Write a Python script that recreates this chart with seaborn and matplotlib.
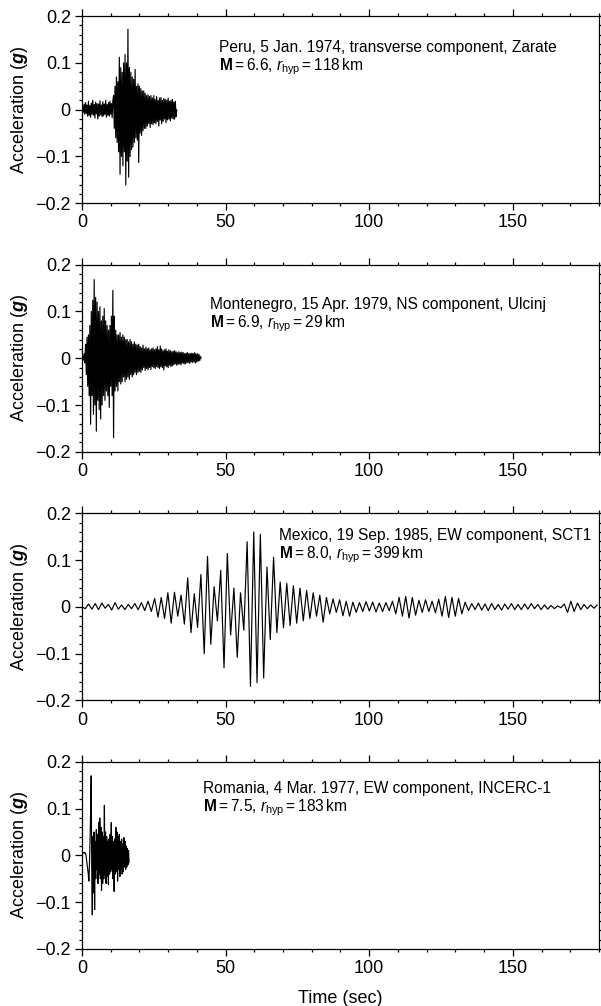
import numpy as np
import pandas as pd
import matplotlib
matplotlib.use('Agg')
import matplotlib.pyplot as plt
import seaborn as sns
from matplotlib.ticker import MultipleLocator, FuncFormatter

# accelerogram values (g), one value every dt seconds
peru_dt = 0.25
peru_acc = [
    0.0, 0.008, -0.006, 0.012, -0.01, 0.015, -0.008, 0.01, -0.014, 0.018,
    -0.012, 0.009, -0.016, 0.014, -0.01, 0.02, -0.012, 0.011, -0.018, 0.016,
    -0.009, 0.013, -0.02, 0.012, -0.014, 0.019, -0.011, 0.01, -0.015, 0.017,
    -0.013, 0.012, -0.01, 0.02, -0.016, 0.011, -0.012, 0.015, -0.014, 0.018,
    -0.01, 0.013, -0.017, 0.02,
    0.03, -0.04, 0.05, -0.06, 0.07, -0.07, 0.06, -0.09, 0.112, -0.138,
    0.09, -0.1, 0.08, -0.12, 0.1, -0.09, 0.118, -0.161, 0.1, -0.11,
    0.172, -0.144, 0.09, -0.1, 0.08, -0.085, 0.07, -0.08, 0.065, -0.07,
    0.086, -0.06, 0.05, -0.065, 0.055, -0.113, 0.05, -0.05, 0.045, -0.055,
    0.04, -0.045, 0.04, -0.04,
    0.035, -0.04, 0.03, -0.035, 0.032, -0.03, 0.028, -0.038, 0.03, -0.03,
    0.025, -0.032, 0.03, -0.028, 0.022, -0.03, 0.028, -0.025, 0.02, -0.035,
    0.025, -0.022, 0.026, -0.03, 0.02, -0.025, 0.024, -0.02, 0.022, -0.028,
    0.02, -0.022, 0.025, -0.02, 0.018, -0.024, 0.02, -0.018, 0.022, -0.02,
    0.016, -0.02, 0.018, -0.015, 0.0,
]

montenegro_dt = 0.25
montenegro_acc = [
    0.0, 0.005, -0.004, 0.01, -0.01,
    0.03, -0.035, 0.045, -0.06, 0.05, -0.08, 0.07, -0.141, 0.1, -0.08,
    0.124, -0.12, 0.168, -0.1, 0.13, -0.156, 0.12, -0.09, 0.1, -0.11,
    0.11, -0.13, 0.08, -0.1, 0.09, -0.08, 0.106, -0.09, 0.08, -0.07,
    0.07, -0.08, 0.06, -0.105, 0.07, -0.06, 0.09, -0.08, 0.145, -0.17,
    0.09, -0.07, 0.06, -0.06, 0.05, -0.07, 0.05, -0.05, 0.055, -0.055,
    0.045, -0.05, 0.05, -0.04, 0.045, -0.05, 0.04, -0.045, 0.04, -0.04,
    0.035, -0.045, 0.04, -0.035, 0.035, -0.04, 0.03, -0.035, 0.035, -0.03,
    0.03, -0.035, 0.028, -0.03, 0.03, -0.028,
    0.025, -0.03, 0.022, -0.025, 0.028, -0.02, 0.02, -0.026, 0.024, -0.022,
    0.02, -0.025, 0.022, -0.02, 0.018, -0.024, 0.02, -0.018, 0.022, -0.02,
    0.018, -0.022, 0.02, -0.018, 0.025, -0.02, 0.018, -0.022, 0.026, -0.018,
    0.02, -0.02, 0.016, -0.025, 0.018, -0.016, 0.02, -0.018, 0.015, -0.02,
    0.018, -0.015, 0.016, -0.018, 0.014, -0.016, 0.015, -0.014, 0.016, -0.012,
    0.014, -0.015, 0.012, -0.013, 0.014, -0.012, 0.012, -0.014, 0.013, -0.01,
    0.012, -0.012, 0.01, -0.012, 0.011, -0.01, 0.012, -0.009, 0.01, -0.011,
    0.01, -0.008, 0.011, -0.009, 0.01, -0.008, 0.012, -0.01, 0.009, -0.008,
    0.01, -0.006, 0.008, -0.005, 0.004, 0.0,
]

mexico_dt = 1.15
mexico_acc = [
    0.0, -0.004, 0.006, -0.005, 0.007, -0.006, 0.008, -0.003, 0.005, -0.007,
    0.009, -0.005, 0.004, -0.006, 0.005, -0.004, 0.007, -0.006, 0.009, -0.008,
    0.012, -0.01, 0.018, -0.022, 0.02, -0.025, 0.03, -0.035, 0.031, -0.02,
    0.025, -0.037, 0.062, -0.055, 0.028, -0.044, 0.069, -0.1, 0.108, -0.08,
    0.043, -0.03, 0.078, -0.13, 0.114, -0.06, 0.04, -0.108, 0.03, -0.05,
    0.139, -0.17, 0.16, -0.162, 0.155, -0.152, 0.085, -0.07, 0.106, -0.055,
    0.053, -0.045, 0.05, -0.04, 0.045, -0.035, 0.04, -0.03, 0.035, -0.025,
    0.03, -0.02, 0.025, -0.033, 0.02, -0.015, 0.017, -0.012, 0.015, -0.019,
    0.012, -0.02, 0.01, -0.012, 0.009, -0.01, 0.011, -0.009, 0.01, -0.011,
    0.008, -0.01, 0.009, -0.008, 0.012, -0.015, 0.02, -0.02, 0.022, -0.024,
    0.02, -0.018, 0.014, -0.012, 0.015, -0.01, 0.012, -0.013, 0.016, -0.02,
    0.022, -0.023, 0.02, -0.02, 0.018, -0.015, 0.01, -0.008, 0.007, -0.006,
    0.008, -0.007, 0.006, -0.008, 0.007, -0.006, 0.005, -0.007, 0.006, -0.005,
    0.007, -0.006, 0.005, -0.006, 0.006, -0.005, 0.007, -0.004, 0.005, -0.006,
    0.004, -0.005, 0.003, -0.004, 0.002, -0.002, 0.006, -0.012, 0.012, -0.01,
    0.008, -0.006, 0.005, -0.004, 0.004, -0.003, 0.004,
]

romania_dt = 0.2
romania_acc = [
    0.0, 0.004, 0.005, 0.006, 0.005, 0.006, 0.004, 0.0, -0.01, -0.02,
    -0.03, -0.04, -0.055, -0.02, 0.03, 0.09, 0.17, -0.03, -0.127, 0.04,
    -0.08, 0.05, -0.116, 0.03, -0.05, 0.055, -0.03, 0.045, -0.06, 0.07,
    -0.04, 0.08, -0.05, 0.06, -0.075, 0.05, -0.06, 0.04, -0.05, 0.107,
    -0.04, 0.05, -0.06, 0.04, -0.045, 0.03, -0.062, 0.035, -0.04, 0.045,
    -0.035, 0.07, -0.03, 0.04, -0.05, 0.03, -0.077, 0.035, -0.04, 0.06,
    -0.035, 0.05, -0.055, 0.04, -0.03, 0.045, -0.045, 0.03, -0.03, 0.035,
    -0.04, 0.025, -0.035, 0.038, -0.025, 0.03, -0.03, 0.02, -0.025, 0.015,
    -0.02, 0.01, -0.015,
]

line1 = [
    'Peru, 5 Jan. 1974, transverse component, Zarate',
    'Montenegro, 15 Apr. 1979, NS component, Ulcinj',
    'Mexico, 19 Sep. 1985, EW component, SCT1',
    'Romania, 4 Mar. 1977, EW component, INCERC-1',
]
magnitudes = ['6.6', '6.9', '8.0', '7.5']
distances = ['118', '29', '399', '183']

records = [(peru_dt, peru_acc), (montenegro_dt, montenegro_acc),
           (mexico_dt, mexico_acc), (romania_dt, romania_acc)]
label_pos = [(0.265, 0.83), (0.248, 0.785), (0.382, 0.88), (0.234, 0.855)]

sns.set_theme(style='ticks')
plt.rcParams['font.family'] = ['Liberation Sans', 'DejaVu Sans']
plt.rcParams['text.color'] = 'black'
plt.rcParams['axes.labelcolor'] = 'black'
plt.rcParams['xtick.color'] = 'black'
plt.rcParams['ytick.color'] = 'black'
plt.rcParams['mathtext.fontset'] = 'custom'
plt.rcParams['mathtext.rm'] = 'Liberation Sans'
plt.rcParams['mathtext.it'] = 'Liberation Sans:italic'
plt.rcParams['mathtext.bf'] = 'Liberation Sans:bold'
plt.rcParams['mathtext.bfit'] = 'Liberation Sans:bold:italic'

fig, axes = plt.subplots(4, 1, figsize=(6.01, 10.06), dpi=100)
fig.subplots_adjust(left=0.1364, right=0.9967, top=0.984, bottom=0.0567, hspace=0.328)

def yfmt(v, pos):
    return '0' if abs(v) < 1e-9 else f'{v:.1f}'.replace('-', '\u2212')

for i, ax in enumerate(axes):
    dt, acc = records[i]
    df = pd.DataFrame({'t': np.arange(len(acc)) * dt, 'a': acc})
    sns.lineplot(data=df, x='t', y='a', ax=ax, color='black', lw=0.85,
                 estimator=None, sort=False)
    ax.set_xlim(0, 180)
    ax.set_ylim(-0.2, 0.2)
    ax.xaxis.set_major_locator(MultipleLocator(50))
    ax.xaxis.set_minor_locator(MultipleLocator(10))
    ax.yaxis.set_major_locator(MultipleLocator(0.1))
    ax.yaxis.set_minor_locator(MultipleLocator(0.02))
    ax.yaxis.set_major_formatter(FuncFormatter(yfmt))
    ax.tick_params(which='both', direction='out', top=True, right=True,
                   color='black', width=0.9, labelsize=13, pad=3)
    ax.tick_params(which='major', length=5)
    ax.tick_params(which='minor', length=2.5)
    for sp in ax.spines.values():
        sp.set_visible(True)
        sp.set_color('black')
        sp.set_linewidth(0.9)
    ax.set_xlabel('')
    ax.set_ylabel(r'Acceleration ($\mathbfit{g}$)', fontsize=13, labelpad=4)
    tx, ty = label_pos[i]
    ax.text(tx, ty, line1[i], transform=ax.transAxes, fontsize=11.2,
            va='center', ha='left', color='black')
    ax.text(tx, ty - 0.1,
            r'$\mathbf{M}=' + magnitudes[i] + r'$, $r_{\mathrm{hyp}}='
            + distances[i] + r'\,\mathrm{km}$',
            transform=ax.transAxes, fontsize=11.2, va='center', ha='left',
            color='black')

axes[-1].set_xlabel('Time (sec)', fontsize=13, labelpad=9)

fig.savefig('out.png', dpi=100)
